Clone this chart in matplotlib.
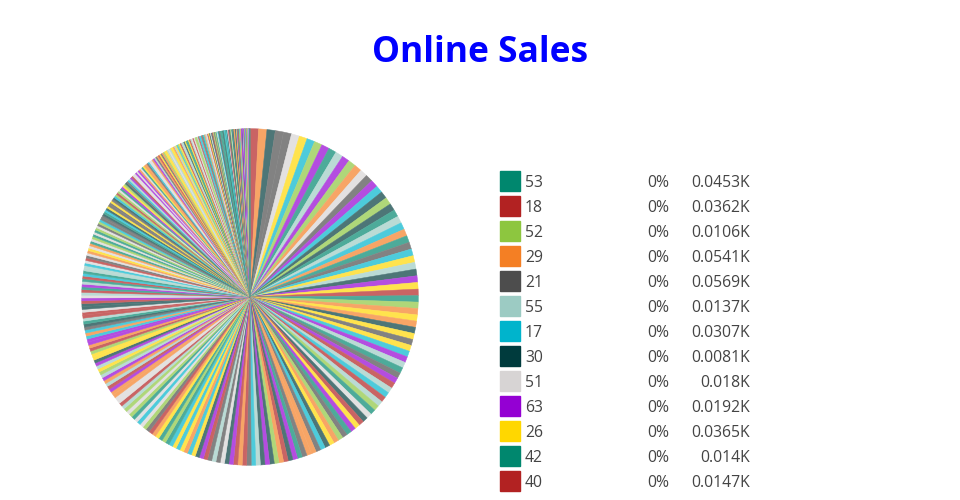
import numpy as np
import matplotlib.pyplot as plt
import matplotlib.colors as mcolors
from matplotlib.patches import Rectangle

plt.rcParams['font.family'] = ['Open Sans', 'DejaVu Sans']

palette = ['#00876E', '#B22222', '#8DC63F', '#F47F24', '#4D4D4D', '#9CCBC3',
           '#00B4CC', '#003B3D', '#D7D4D4', '#9400D3', '#FFD700']

# legend rows that are visible (rest of the legend is cut off)
labels = ['53', '18', '52', '29', '21', '55', '17', '30', '51', '63', '26', '42', '40']

values = [
    45.3, 36.2, 10.6, 54.1, 56.9, 13.7, 30.7, 8.1, 18.0, 19.2, 36.5, 14.0, 14.7,
    88.4, 72.1, 95.3, 64.7, 79.2, 83.5, 61.8, 91.0, 70.6, 67.3,
    12.4, 5.7, 17.9, 8.3, 14.6, 3.2, 10.1, 19.4, 6.8, 15.2,
    27.4, 33.8, 21.6, 38.2, 25.9, 30.1, 35.5, 23.3, 29.7, 37.0,
    47.2, 55.8, 41.3, 58.6, 44.9, 52.1, 49.7, 43.5, 57.4, 50.2,
    85.9, 76.4, 62.2, 98.1, 73.8, 80.5, 66.9, 89.7, 69.1, 77.6,
    11.7, 2.5, 16.3, 9.0, 13.8, 4.4, 18.6, 7.1, 12.9, 1.8,
    24.8, 32.4, 20.5, 36.6, 28.2, 31.9, 22.7, 39.4, 26.3, 34.1,
    46.6, 53.9, 40.8, 59.3, 48.1, 42.7, 54.6, 45.4, 51.5, 56.2,
    15.9, 8.8, 11.0, 19.9, 5.1, 14.1, 9.6, 17.2, 3.9, 12.0,
    94.2, 63.4, 81.3, 71.9, 86.6, 65.5, 92.8, 74.0, 60.9, 84.1,
    29.0, 21.2, 37.8, 25.1, 33.0, 27.9, 35.9, 23.8, 30.6, 38.8,
    6.2, 16.8, 10.7, 2.1, 18.1, 7.6, 13.3, 4.9, 15.6, 9.3,
    49.0, 41.9, 58.0, 44.2, 52.8, 47.9, 55.1, 43.0, 50.9, 57.7,
    22.1, 32.9, 26.8, 36.1, 24.4, 31.3, 20.9, 34.7, 28.6, 39.0,
    11.4, 19.0, 6.5, 14.9, 3.5, 17.5, 8.0, 12.6, 1.4, 16.0,
    68.2, 78.7, 90.3, 75.5, 62.9, 87.2, 70.0, 82.8, 64.1, 96.5,
    10.4, 5.4, 18.9, 7.8, 13.5, 2.8, 15.4, 9.9, 11.9, 4.1,
    25.6, 33.4, 21.9, 37.4, 27.1, 30.8, 23.0, 35.2, 29.4, 38.5,
    46.0, 53.3, 40.4, 48.8, 59.8, 45.8, 51.0, 42.3, 56.9, 49.4,
    17.7, 6.0, 14.3, 8.5, 19.6, 3.0, 12.2, 10.9, 16.6, 5.9,
    24.1, 32.0, 26.0, 36.9, 22.4, 31.6, 28.9, 34.4, 20.2, 37.6,
    73.1, 79.9, 67.8, 85.0, 61.2, 93.6, 76.9, 69.7, 83.0, 65.0,
    13.0, 7.4, 18.3, 2.3, 15.0, 9.4, 11.2, 4.7, 17.0, 6.6,
    44.6, 54.0, 47.5, 58.9, 41.6, 52.5, 50.5, 43.8, 55.4, 46.3,
    25.3, 33.6, 27.7, 39.7, 23.5, 30.3, 35.0, 21.4, 29.1, 32.7,
    14.8, 1.1, 12.7, 8.1, 19.2, 3.7, 16.1, 10.2, 5.2, 13.6,
    88.9, 72.6, 80.1, 63.9, 91.7, 97.0, 86.1, 78.2, 92.4, 84.7,
    26.5, 38.0, 24.6, 31.1, 22.9, 36.3, 28.4, 34.9, 20.7, 30.0,
    7.9, 18.0, 2.6, 15.7, 9.7, 11.6, 4.2, 17.4, 6.3, 14.4,
    57.1, 48.5, 42.0, 53.6, 45.1, 59.0, 51.8, 44.0, 56.5, 49.9,
    3.4, 12.1, 8.7, 19.8, 5.5, 16.4, 10.5, 1.6, 13.1, 7.2,
    25.7, 37.2, 23.1, 33.2, 27.2, 35.7, 21.8, 31.8, 29.6, 26.1,
    18.4, 4.6, 15.3, 9.1, 11.3, 2.0, 17.8, 6.9, 14.0, 8.4,
    10.8, 3.3, 16.9, 5.0, 12.5, 7.0, 19.1, 4.0, 13.9, 9.5,
]

vals = np.array(values)
total = vals.sum()


def fade(c, a=0.7):
    # slices are drawn 70% opaque on white
    r, g, b = mcolors.to_rgb(c)
    return (r * a + 1 - a, g * a + 1 - a, b * a + 1 - a)


base_colors = [palette[i % len(palette)] for i in range(len(vals))]
order = np.argsort(-vals, kind='stable')

fig = plt.figure(figsize=(9.6, 5), dpi=100)

# pie centred at (250, 297) px, radius 170 px
ax = fig.add_axes([80 / 960, (500 - 297 - 170) / 500, 340 / 960, 340 / 500])
wedges, _ = ax.pie(vals[order], colors=[fade(base_colors[i]) for i in order],
                   startangle=90, counterclock=False, radius=1.0,
                   wedgeprops=dict(linewidth=0.35))
for w in wedges:
    w.set_edgecolor(w.get_facecolor())
ax.set_xlim(-1.01, 1.01)
ax.set_ylim(-1.01, 1.01)
ax.set_aspect('equal')
ax.axis('off')

fig.text(0.5, 1 - 62 / 500, 'Online Sales', ha='center', va='baseline',
         fontsize=25.5, fontweight='bold', color='#0000FF')

# legend
txt = '#444444'
fs = 11.3
for i, lab in enumerate(labels):
    yc = 181 + 25 * i
    yb = 1 - (yc + 6) / 500
    fig.patches.append(Rectangle((500 / 960, 1 - (yc + 10) / 500), 20 / 960, 20 / 500,
                                 transform=fig.transFigure, color=base_colors[i]))
    v = vals[i]
    fig.text(525 / 960, yb, lab, ha='left', va='baseline', fontsize=fs, color=txt)
    fig.text(669 / 960, yb, f'{round(v / total * 100)}%', ha='right', va='baseline',
             fontsize=fs, color=txt)
    vs = f'{v / 1000:.4f}'.rstrip('0').rstrip('.') + 'K'
    fig.text(750 / 960, yb, vs, ha='right', va='baseline', fontsize=fs, color=txt)

fig.savefig('out.png', dpi=100)
